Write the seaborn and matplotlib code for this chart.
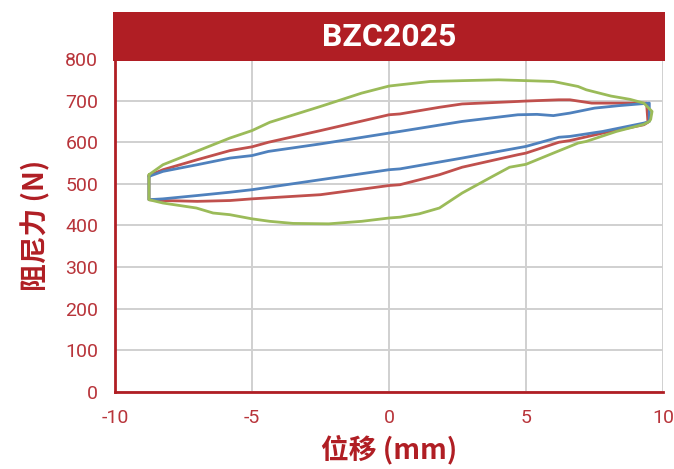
import numpy as np
import pandas as pd
import matplotlib
matplotlib.use("Agg")
import matplotlib.pyplot as plt
from matplotlib.patches import Rectangle
import seaborn as sns

# ---- data ----
red_up_x = [-8.76, -8.25, -7.0, -5.8, -5.0, -4.4, -2.5, 0.0, 0.4, 1.84, 2.67, 4.7, 5.0, 6.2, 6.6, 7.4, 8.4, 9.4]
red_up_y = [520, 534, 558, 580, 589, 600, 628, 666, 668, 684, 692, 698, 699, 702, 702, 694, 694, 694]
red_lo_x = [9.45, 9.3, 7.8, 6.6, 6.2, 5.0, 4.7, 2.67, 1.84, 0.4, 0.0, -2.5, -5.0, -5.8, -7.0, -8.25, -8.76]
red_lo_y = [648, 642, 622, 604, 600, 574, 570, 540, 522, 498, 496, 474, 464, 460, 458, 460, 462]

blue_up_x = [-8.76, -8.25, -7.0, -5.8, -5.0, -4.4, -2.5, 0.0, 0.4, 2.67, 4.7, 5.4, 6.0, 6.6, 7.5, 8.4, 9.5]
blue_up_y = [518, 530, 546, 562, 568, 578, 596, 622, 626, 650, 666, 667, 664, 670, 682, 688, 694]
blue_lo_x = [9.5, 9.3, 7.8, 6.6, 6.2, 5.0, 2.67, 0.4, 0.0, -2.5, -5.0, -5.8, -7.0, -8.25, -8.76]
blue_lo_y = [650, 646, 626, 614, 612, 590, 562, 536, 534, 510, 486, 480, 472, 464, 462]

green_up_x = [-8.76, -8.25, -7.03, -5.81, -5.0, -4.35, -2.5, -1.0, 0.0, 0.4, 1.5, 2.67, 4.0, 5.0, 6.0, 6.9, 7.2, 8.1, 8.8, 9.3, 9.6, 9.55]
green_up_y = [522, 546, 578, 610, 628, 648, 686, 718, 735, 738, 746, 748, 750, 748, 746, 734, 726, 711, 703, 694, 674, 655]
green_lo_x = [9.5, 9.3, 8.3, 7.2, 6.9, 6.0, 5.0, 4.4, 3.78, 2.67, 1.84, 1.1, 0.4, 0.0, -1.0, -2.2, -3.5, -4.35, -5.0, -5.81, -6.42, -7.03, -8.25, -8.76]
green_lo_y = [650, 643, 626, 602, 598, 574, 547, 540, 518, 478, 442, 428, 420, 418, 410, 404, 405, 410, 416, 426, 430, 442, 454, 462]

x_ticks = [-10, -5, 0, 5, 10]
y_ticks = [0, 100, 200, 300, 400, 500, 600, 700, 800]
title = "BZC2025"
x_label = "位移 (mm)"
y_label = "阻尼力 (N)"

# ---- build tidy table ----
rows = []
loops = [
    ("red", red_up_x, red_up_y, red_lo_x, red_lo_y),
    ("blue", blue_up_x, blue_up_y, blue_lo_x, blue_lo_y),
    ("green", green_up_x, green_up_y, green_lo_x, green_lo_y),
]
for name, ux, uy, lx, ly in loops:
    xs = list(ux) + list(lx) + [ux[0]]
    ys = list(uy) + list(ly) + [uy[0]]
    for i, (a, b) in enumerate(zip(xs, ys)):
        rows.append({"loop": name, "order": i, "x": a, "y": b})
df = pd.DataFrame(rows)

palette = {"red": "#C0504D", "blue": "#4F81BD", "green": "#9BBB59"}
dark_red = "#B01E24"
tick_red = "#B8343A"

sns.set_theme(style="white")
plt.rcParams["font.family"] = ["Noto Sans CJK SC", "DejaVu Sans"]
plt.rcParams["axes.unicode_minus"] = False

fig = plt.figure(figsize=(6.74, 4.69), dpi=100)
ax = fig.add_axes([0.1706, 0.1642, 0.8131, 0.7100])

ax.set_xlim(-10, 10)
ax.set_ylim(0, 800)
ax.set_xticks(x_ticks)
ax.set_yticks(y_ticks)
ax.grid(True, color="#D0D0D0", linewidth=1.4)
ax.set_axisbelow(True)

for name in ["red", "blue", "green"]:
    sub = df[df["loop"] == name]
    sns.lineplot(data=sub, x="x", y="y", sort=False, estimator=None,
                 color=palette[name], linewidth=2.0, ax=ax, legend=False)

for s in ["top", "right"]:
    ax.spines[s].set_visible(False)
for s in ["left", "bottom"]:
    ax.spines[s].set_color(dark_red)
    ax.spines[s].set_linewidth(2.0)
ax.tick_params(axis="both", length=0, labelsize=14, colors=tick_red)
ax.tick_params(axis="x", pad=12)
ax.tick_params(axis="y", pad=12)
for lab in ax.get_xticklabels() + ax.get_yticklabels():
    lab.set_fontfamily(["Roboto", "DejaVu Sans"])

ax.set_xlabel(x_label, fontsize=20, fontweight="bold", color=dark_red, labelpad=6)
ax.set_ylabel(y_label, fontsize=20, fontweight="bold", color=dark_red, labelpad=11)

# title bar
bar = Rectangle((-0.003, 0.994), 1.006, 0.147, transform=ax.transAxes,
                clip_on=False, facecolor=dark_red, edgecolor="none", zorder=5)
ax.add_patch(bar)
ax.text(0.5, 1.067, title, transform=ax.transAxes, ha="center", va="center",
        fontsize=23, fontweight="bold", color="white", zorder=6,
        fontfamily=["Roboto", "DejaVu Sans"])

fig.savefig("out.png", dpi=100)
